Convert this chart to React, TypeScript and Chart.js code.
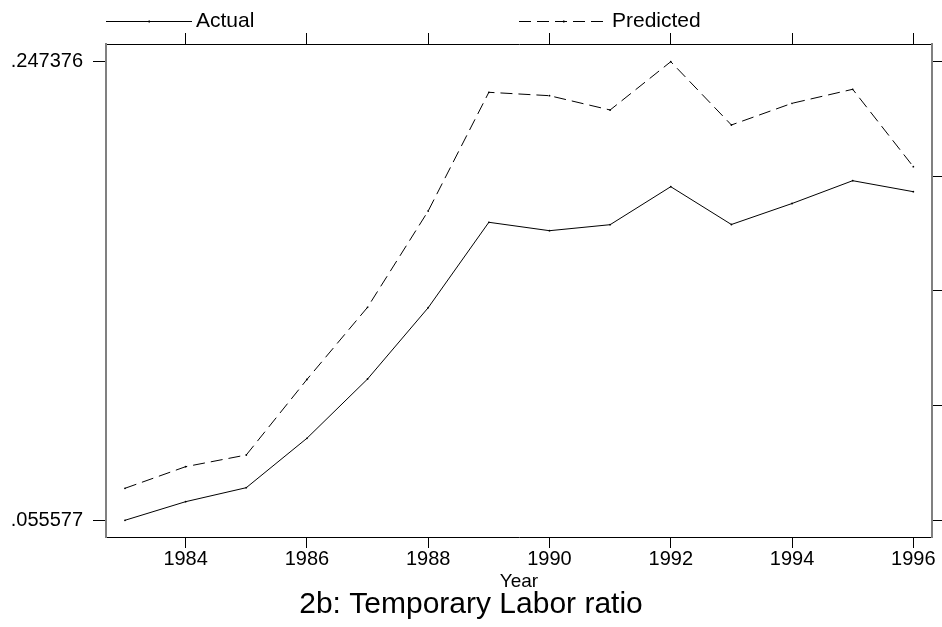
import React, { useEffect, useRef } from "react";
import { Chart, registerables } from "chart.js";

Chart.register(...registerables);

const years = [1983, 1984, 1985, 1986, 1987, 1988, 1989, 1990, 1991, 1992, 1993, 1994, 1995, 1996];
const actual = [0.055577, 0.06336, 0.06921, 0.08987, 0.11467, 0.14449, 0.18021, 0.1767, 0.17921, 0.1951, 0.17929, 0.18807, 0.19761, 0.19301];
const predicted = [0.06896, 0.078, 0.08289, 0.11446, 0.14466, 0.18494, 0.23458, 0.23316, 0.22718, 0.247376, 0.22091, 0.22998, 0.23584, 0.20347];
const xTickYears = [1984, 1986, 1988, 1990, 1992, 1994, 1996];
const yTickValues = [0.055577, 0.1035267, 0.1514765, 0.1994262, 0.247376];
const yLabeledTicks = [0.055577, 0.247376];
const seriesLabels = ["Actual", "Predicted"];
const xAxisTitle = "Year";
const chartTitle = "2b: Temporary Labor ratio";

const FONT = "'Liberation Sans', Arial, Helvetica, sans-serif";

const fmtY = (v: number) => v.toFixed(6).replace(/^0/, "");

const textPlugin = {
  id: "stataText",
  afterDraw(chart: any) {
    const ctx = chart.ctx;
    const area = chart.chartArea;
    const W = chart.width;
    ctx.save();
    // legend
    const half = (area.right - area.left) / 2;
    chart.data.datasets.forEach((ds: any, i: number) => {
      const x0 = area.left + i * half;
      const lineLen = i === 0 ? 86 : 89;
      const y = 21.5;
      ctx.strokeStyle = "#000";
      ctx.lineWidth = 1;
      ctx.setLineDash(ds.borderDash || []);
      ctx.beginPath();
      ctx.moveTo(x0, y);
      ctx.lineTo(x0 + lineLen, y);
      ctx.stroke();
      ctx.setLineDash([]);
      ctx.fillStyle = "#000";
      ctx.fillRect(x0 + lineLen / 2 - 0.5, y - 1, 1.5, 2);
      ctx.font = `21px ${FONT}`;
      ctx.textAlign = "left";
      ctx.textBaseline = "alphabetic";
      ctx.fillText(ds.label, x0 + lineLen + 4, 27);
    });
    // x axis title
    ctx.font = `19px ${FONT}`;
    ctx.textAlign = "center";
    ctx.fillStyle = "#000";
    ctx.fillText(xAxisTitle, (area.left + area.right) / 2, 587);
    // chart title
    ctx.font = `30px ${FONT}`;
    ctx.fillText(chartTitle, W / 2, 613);
    ctx.restore();
  },
};

export default function App() {
  const ref = useRef<HTMLCanvasElement | null>(null);
  useEffect(() => {
    if (!ref.current) return;
    const tickFont = { family: FONT, size: 20, lineHeight: 1 };
    const chart = new Chart(ref.current, {
      type: "line",
      data: {
        datasets: [
          {
            label: seriesLabels[0],
            data: years.map((x, i) => ({ x, y: actual[i] })),
            borderColor: "#000",
            borderWidth: 1,
            pointRadius: 0.9,
            pointBorderWidth: 0,
            pointBackgroundColor: "#000",
            tension: 0,
            fill: false,
          },
          {
            label: seriesLabels[1],
            data: years.map((x, i) => ({ x, y: predicted[i] })),
            borderColor: "#000",
            borderWidth: 1,
            borderDash: [12, 6],
            pointRadius: 0.9,
            pointBorderWidth: 0,
            pointBackgroundColor: "#000",
            tension: 0,
            fill: false,
          },
        ],
      },
      options: {
        animation: false,
        responsive: false,
        devicePixelRatio: 1,
        layout: { padding: 0 },
        plugins: {
          legend: { display: false },
          title: { display: false },
          tooltip: { enabled: false },
        },
        scales: {
          x: {
            type: "linear",
            position: "bottom",
            min: 1982.687,
            max: 1996.308,
            afterBuildTicks: (s: any) => {
              s.ticks = xTickYears.map((v) => ({ value: v }));
            },
            afterFit: (s: any) => {
              s.height = 90;
            },
            grid: { drawOnChartArea: false, drawTicks: true, tickLength: 11, color: "#000", lineWidth: 1 },
            border: { display: true, color: "#000", width: 1 },
            ticks: { color: "#000", font: tickFont, padding: 1, maxRotation: 0, autoSkip: false, callback: (v: any) => String(v) },
          },
          x2: {
            type: "linear",
            position: "top",
            min: 1982.687,
            max: 1996.308,
            afterBuildTicks: (s: any) => {
              s.ticks = xTickYears.map((v) => ({ value: v }));
            },
            afterFit: (s: any) => {
              s.height = 44;
            },
            grid: { drawOnChartArea: false, drawTicks: true, tickLength: 11, color: "#000", lineWidth: 1 },
            border: { display: true, color: "#000", width: 1 },
            ticks: { display: false },
          },
          y: {
            type: "linear",
            position: "left",
            min: 0.04859,
            max: 0.25478,
            afterBuildTicks: (s: any) => {
              s.ticks = yLabeledTicks.map((v) => ({ value: v }));
            },
            afterFit: (s: any) => {
              s.width = 106;
            },
            grid: { drawOnChartArea: false, drawTicks: true, tickLength: 13, color: "#000", lineWidth: 1 },
            border: { display: true, color: "#808080", width: 2 },
            ticks: { color: "#000", font: tickFont, padding: 10, autoSkip: false, callback: (v: any) => fmtY(Number(v)) },
          },
          y2: {
            type: "linear",
            position: "right",
            min: 0.04859,
            max: 0.25478,
            afterBuildTicks: (s: any) => {
              s.ticks = yTickValues.map((v) => ({ value: v }));
            },
            afterFit: (s: any) => {
              s.width = 10;
            },
            grid: { drawOnChartArea: false, drawTicks: true, tickLength: 10, color: "#000", lineWidth: 1 },
            border: { display: true, color: "#808080", width: 2 },
            ticks: { display: false },
          },
        },
      } as any,
      plugins: [textPlugin],
    });
    return () => chart.destroy();
  }, []);
  return (
    <div style={{ position: "absolute", left: 0, top: 0, width: 942, height: 627, background: "#fff" }}>
      <canvas ref={ref} width={942} height={627} style={{ display: "block", width: 942, height: 627 }} />
    </div>
  );
}
